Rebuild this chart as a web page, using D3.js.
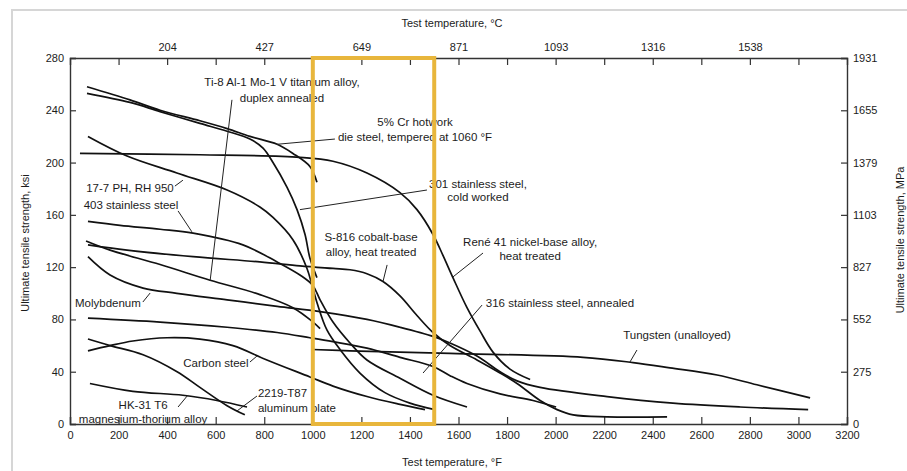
<!DOCTYPE html>
<html>
<head>
<meta charset="utf-8">
<script src="https://cdn.jsdelivr.net/npm/d3@7"></script>
<style>
  body { margin: 0; background: #fff; }
  text { font-family: "Liberation Sans", Arial, sans-serif; fill: #1c1c1c; }
</style>
</head>
<body>
<div id="chart"></div>
<script>
// ---- data: [temperature °F, strength ksi] ----
var crDieSteel  = [[70,258],[247,248],[371,240],[535,232],[647,226],[741,220],[853,214],[918,207],[988,197],[1017,185]];
var ss301       = [[70,253],[247,246],[371,239],[535,230],[647,224],[741,218],[795,211],[836,200],[894,181],[935,164],[968,145],[988,127],[1017,112]];
var ph177       = [[74,220],[235,205],[440,192],[647,179],[782,166],[836,158],[918,141],[976,119],[997,106],[1017,93],[1058,72],[1112,57],[1194,39],[1297,24],[1400,16],[1503,11]];
var rene41      = [[41,207],[535,206],[947,204],[1083,201],[1223,192],[1359,177],[1429,164],[1495,145],[1536,129],[1577,112],[1635,89],[1689,71],[1742,55],[1812,42],[1895,34]];
var ss403       = [[74,155],[206,152],[371,149],[507,146],[712,137],[853,124],[947,114],[1000,106],[1030,95],[1083,78],[1153,62],[1223,49],[1359,35],[1495,22],[1635,13]];
var ti811       = [[66,140],[165,133],[371,122],[577,110],[782,99],[918,89],[1001,78],[1030,73]];
var s816        = [[74,137],[235,133],[507,128],[782,124],[947,121],[1083,119],[1153,118],[1223,115],[1289,109],[1359,98],[1429,83],[1495,70],[1565,60],[1676,49],[1771,39],[1841,31],[1936,18],[2006,11],[2072,7],[2212,5.5],[2459,5.5]];
var molybdenum  = [[74,128],[165,114],[301,104],[440,100],[647,95],[853,90],[1030,86],[1223,80],[1359,74],[1495,67],[1565,62],[1676,52],[1771,40],[1841,33],[1936,28],[2212,21],[2483,16],[2760,13],[3040,11]];
var ss316       = [[74,81],[371,78],[647,74],[853,70],[988,66],[1083,63],[1223,58],[1359,51],[1495,44],[1565,37],[1635,31],[1771,23],[1907,18],[2002,13]];
var tungsten    = [[997,57],[1153,56],[1565,54],[2113,51],[2319,47],[2471,43],[2665,37.5],[2829,30],[3048,20]];
var carbonSteel = [[74,56],[165,60],[259,63.5],[400,66],[535,65],[671,60],[811,49],[988,36],[1083,29],[1223,21],[1359,15],[1462,11]];
var al2219      = [[74,65],[165,60],[301,53],[441,40],[535,28],[647,14],[720,7]];
var hk31        = [[82,31],[259,25],[465,22],[605,18],[729,13]];

var allSeries = [crDieSteel, ss301, ph177, rene41, ss403, ti811, s816, molybdenum, ss316, tungsten, carbonSteel, al2219, hk31];

// ---- ticks ----
var fTicks = [0,200,400,600,800,1000,1200,1400,1600,1800,2000,2200,2400,2600,2800,3000,3200];
var cTickF = [400,800,1200,1600,2000,2400,2800];
var cLabels = ["204","427","649","871","1093","1316","1538"];
var ksiTicks = [0,40,80,120,160,200,240,280];
var mpaLabels = ["0","275","552","827","1103","1379","1655","1931"];

// highlighted band, °F
var band = [1000, 1500];

// annotation texts, anchored in (°F, ksi)
var notes = [
  {t: "Ti-8 Al-1 Mo-1 V titanium alloy,", f: 873, k: 261.5},
  {t: "duplex annealed", f: 873, k: 249.5},
  {t: "5% Cr hotwork", f: 1421, k: 231},
  {t: "die steel, tempered at 1060 °F", f: 1421, k: 219.5},
  {t: "301 stainless steel,", f: 1680, k: 184},
  {t: "cold worked", f: 1680, k: 173.5},
  {t: "17-7 PH, RH 950", f: 247, k: 180.5},
  {t: "403 stainless steel", f: 251, k: 167.5},
  {t: "S-816 cobalt-base", f: 1240, k: 143},
  {t: "alloy, heat treated", f: 1240, k: 131.5},
  {t: "René 41 nickel-base alloy,", f: 1895, k: 139},
  {t: "heat treated", f: 1895, k: 128.5},
  {t: "316 stainless steel, annealed", f: 2018, k: 92.6},
  {t: "Tungsten (unalloyed)", f: 2500, k: 68},
  {t: "Molybdenum", f: 156, k: 92.6},
  {t: "Carbon steel", f: 601, k: 46.7},
  {t: "2219-T87", f: 774, k: 23.7, a: "start"},
  {t: "aluminum plate", f: 774, k: 12.2, a: "start"},
  {t: "HK-31 T6", f: 301, k: 14.5},
  {t: "magnesium-thorium alloy", f: 301, k: 3.8}
];

var leaders = [
  [[667,248],[577,109.5]],
  [[1091,218],[853,214]],
  [[1470,179],[947,164]],
  [[432,182],[465,186.5]],
  [[445,163],[502,147]],
  [[1306,121.7],[1289,109]],
  [[1701,130.8],[1577,112.5]],
  [[1697,91],[1454,39]],
  [[2335,56.6],[2306,47.4]],
  [[300,93.3],[330,100.2]],
  [[741,47.4],[770,52]],
  [[770,21.4],[688,10]],
  [[445,13],[486,22.2]]
];

var W = 907, H = 471;
var svg = d3.select('#chart').append('svg').attr('width', W).attr('height', H);

// light frame of the scanned figure
svg.append('rect').attr('x', 12).attr('y', 10).attr('width', 920).attr('height', 480)
  .attr('fill', 'none').attr('stroke', '#d6d6d6').attr('stroke-width', 2);

var x = d3.scaleLinear().domain([0, 3200]).range([70, 847]);
var y = d3.scaleLinear().domain([0, 280]).range([424, 58]);

var axisColor = '#333';

function styleAxis(g) {
  g.select('.domain').attr('stroke', axisColor).attr('stroke-width', 1.4);
  g.selectAll('.tick line').attr('stroke', axisColor).attr('stroke-width', 1.2);
  g.selectAll('.tick text').style('font-size', '11px').attr('fill', '#1c1c1c');
}

svg.append('g').attr('transform', 'translate(0,424)')
  .call(d3.axisBottom(x).tickValues(fTicks).tickSize(-7).tickPadding(7).tickFormat(d3.format('d')))
  .call(styleAxis);

svg.append('g').attr('transform', 'translate(0,58)')
  .call(d3.axisTop(x).tickValues(fTicks.filter(function(d) { return d > 0 && d < 3200; })).tickSize(-7).tickPadding(7)
    .tickFormat(function(d) { var i = cTickF.indexOf(d); return i < 0 ? '' : cLabels[i]; }))
  .call(styleAxis);

svg.append('g').attr('transform', 'translate(70,0)')
  .call(d3.axisLeft(y).tickValues(ksiTicks).tickSize(-6).tickPadding(6))
  .call(styleAxis);

svg.append('g').attr('transform', 'translate(847,0)')
  .call(d3.axisRight(y).tickValues(ksiTicks).tickSize(-6).tickPadding(6)
    .tickFormat(function(d, i) { return mpaLabels[i]; }))
  .call(styleAxis);

// axis titles
svg.append('text').attr('x', 452).attr('y', 27).attr('text-anchor', 'middle').style('font-size', '11px')
  .text('Test temperature, °C');
svg.append('text').attr('x', 452).attr('y', 466).attr('text-anchor', 'middle').style('font-size', '11px')
  .text('Test temperature, °F');
svg.append('text').attr('transform', 'translate(29,243) rotate(-90)').attr('text-anchor', 'middle').style('font-size', '11px')
  .text('Ultimate tensile strength, ksi');
svg.append('text').attr('transform', 'translate(904,240) rotate(-90)').attr('text-anchor', 'middle').style('font-size', '11px')
  .text('Ultimate tensile strength, MPa');

// curves
var line = d3.line()
  .x(function(d) { return x(d[0]); })
  .y(function(d) { return y(d[1]); })
  .curve(d3.curveCatmullRom.alpha(0.5));

svg.append('g').selectAll('path').data(allSeries).enter().append('path')
  .attr('d', line)
  .attr('fill', 'none')
  .attr('stroke', '#111')
  .attr('stroke-width', 1.7);

// leader lines
svg.append('g').selectAll('line').data(leaders).enter().append('line')
  .attr('x1', function(d) { return x(d[0][0]); })
  .attr('y1', function(d) { return y(d[0][1]); })
  .attr('x2', function(d) { return x(d[1][0]); })
  .attr('y2', function(d) { return y(d[1][1]); })
  .attr('stroke', '#222')
  .attr('stroke-width', 1);

// labels
svg.append('g').selectAll('text').data(notes).enter().append('text')
  .attr('x', function(d) { return x(d.f); })
  .attr('y', function(d) { return y(d.k); })
  .attr('dy', '0.35em')
  .attr('text-anchor', function(d) { return d.a || 'middle'; })
  .style('font-size', '11.5px')
  .text(function(d) { return d.t; });

// highlight box
svg.append('rect')
  .attr('x', x(band[0]))
  .attr('y', y(280))
  .attr('width', x(band[1]) - x(band[0]))
  .attr('height', y(0) - y(280))
  .attr('fill', 'none')
  .attr('stroke', '#e8b63c')
  .attr('stroke-width', 4);
</script>
</body>
</html>
